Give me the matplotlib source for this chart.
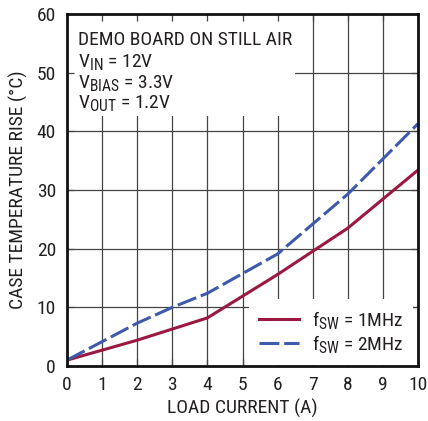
import matplotlib
matplotlib.use("Agg")
import matplotlib.pyplot as plt
from matplotlib.patches import Rectangle
import matplotlib._mathtext as _mt

_mt.SHRINK_FACTOR = 0.8

# Data
load_1mhz = [0, 2, 4, 6, 8, 10]
temp_1mhz = [1.0, 4.4, 8.2, 15.6, 23.5, 33.4]
load_2mhz = [0, 2, 3, 4, 6, 8, 10]
temp_2mhz = [1.0, 7.3, 10.0, 12.4, 19.1, 29.3, 41.3]
xticks = list(range(0, 11))
yticks = [0, 10, 20, 30, 40, 50, 60]
notes = ["DEMO BOARD ON STILL AIR", r"V$_{\rm IN}$ = 12V",
         r"V$_{\rm BIAS}$ = 3.3V", r"V$_{\rm OUT}$ = 1.2V"]
labels = [r"f$_{\rm SW}$ = 1MHz", r"f$_{\rm SW}$ = 2MHz"]

FONT = ['Roboto Condensed', 'Archivo Narrow', 'DejaVu Sans']
plt.rcParams['font.family'] = FONT
plt.rcParams['mathtext.fontset'] = 'custom'
plt.rcParams['mathtext.rm'] = FONT[0]
plt.rcParams['mathtext.it'] = FONT[0]
plt.rcParams['mathtext.sf'] = FONT[0]

RED = '#9b1840'
BLUE = '#3d5aab'
TXT = '#231f20'
GRID = '#444444'
FS = 14

fig = plt.figure(figsize=(4.28, 4.21), dpi=100)
ax = fig.add_axes([67/428, 55/421, 351/428, 352/421])
ax.set_xlim(0, 10)
ax.set_ylim(0, 60)

for x in xticks[1:-1]:
    ax.axvline(x, color=GRID, lw=0.9, zorder=1)
for y in yticks[1:-1]:
    ax.axhline(y, color=GRID, lw=0.9, zorder=1)

ax.add_patch(Rectangle((0.05, 42.6), 6.45, 17.3, facecolor='white',
                       edgecolor='none', zorder=1.5))

ax.plot(load_1mhz, temp_1mhz, color=RED, lw=2.2, zorder=3, label=labels[0])
ax.plot(load_2mhz, temp_2mhz, color=BLUE, lw=2.2, ls=(0, (6.5, 1.6)), zorder=3,
        label=labels[1])

ys = [55.6, 51.9, 48.3, 44.8]
for t, y in zip(notes, ys):
    ax.text(0.3, y, t, fontsize=FS, color=TXT, va='center', ha='left', zorder=4)

leg = ax.legend(loc='lower right', bbox_to_anchor=(0.985, 0.2/60),
                frameon=True, fontsize=FS, handlelength=2.05, handletextpad=0.65,
                borderaxespad=0.0, labelspacing=0.1, borderpad=0.5,
                labelcolor=TXT)
leg.get_frame().set_facecolor('white')
leg.get_frame().set_edgecolor('none')
leg.get_frame().set_alpha(1.0)
leg.set_zorder(2)

ax.set_xticks(xticks)
ax.set_yticks(yticks)
ax.tick_params(direction='in', length=5, width=0.9, color=GRID,
               labelsize=FS, labelcolor=TXT, top=True, right=True)
ax.tick_params(axis='x', pad=7)
ax.tick_params(axis='y', pad=8)
for s in ax.spines.values():
    s.set_linewidth(2.0)
    s.set_color('#111111')
    s.set_zorder(5)

ax.set_xlabel("LOAD CURRENT (A)", fontsize=FS, color=TXT, labelpad=4)
ax.set_ylabel("CASE TEMPERATURE RISE (°C)", fontsize=FS, color=TXT, labelpad=6)

fig.savefig("out.png", dpi=100)
